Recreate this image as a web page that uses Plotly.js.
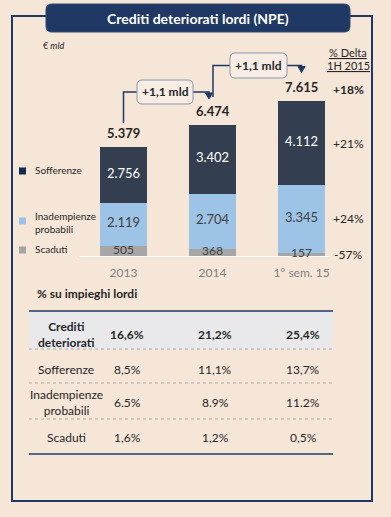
<!DOCTYPE html>
<html><head><meta charset="utf-8">
<script src="https://cdn.plot.ly/plotly-3.0.1.min.js"></script>
<style>html,body{margin:0;padding:0;background:#F6E6D8;}#chart{width:391px;height:517px;}</style>
</head><body><div id="chart"></div>
<script>
// ---- data ----
const categories = ['2013', '2014', '1° sem. 15'];
const seriesNames = ['Sofferenze', 'Inadempienze<br>probabili', 'Scaduti'];
const sofferenze = [2756, 3402, 4112];
const inadempienze = [2119, 2704, 3345];
const scaduti = [505, 368, 157];
const totali = [5379, 6474, 7615];
const deltas = ['+18%', '+21%', '+24%', '-57%'];
const incrementi = ['+1,1 mld', '+1,1 mld'];
const tableLabels = ['Crediti<br>deteriorati', 'Sofferenze', 'Inadempienze<br>probabili', 'Scaduti'];
const pctCrediti = ['16,6%', '21,2%', '25,4%'];
const pctSofferenze = ['8,5%', '11,1%', '13,7%'];
const pctInadempienze = ['6.5%', '8.9%', '11.2%'];
const pctScaduti = ['1,6%', '1,2%', '0,5%'];

// ---- geometry helpers (pixels -> paper) ----
const W = 391, H = 517;
const X = x => x / W, Y = y => 1 - y / H;
const FONT = 'Lato, "Open Sans", sans-serif';
const NAVY = '#1F3864';
const baseY = 256, yMax = 8000, pxPerUnit = 0.0203, padBelow = 20;
const topY = baseY - yMax * pxPerUnit;
const xLeft = 79, step = 89;
const xc = i => xLeft + (i + 0.5) * step;
const yPix = v => baseY - v * pxPerUnit;
const fmt = v => String(v).replace(/\B(?=(\d{3})+(?!\d))/g, '.');

function rr(x0, y0, x1, y1, r) {
  return `M${X(x0 + r)},${Y(y0)} L${X(x1 - r)},${Y(y0)} Q${X(x1)},${Y(y0)} ${X(x1)},${Y(y0 + r)} ` +
    `L${X(x1)},${Y(y1 - r)} Q${X(x1)},${Y(y1)} ${X(x1 - r)},${Y(y1)} L${X(x0 + r)},${Y(y1)} ` +
    `Q${X(x0)},${Y(y1)} ${X(x0)},${Y(y1 - r)} L${X(x0)},${Y(y0 + r)} Q${X(x0)},${Y(y0)} ${X(x0 + r)},${Y(y0)} Z`;
}
function poly(pts) { return 'M' + pts.map(p => X(p[0]) + ',' + Y(p[1])).join(' L'); }
function tri(x, yTop) { return poly([[x - 3.5, yTop], [x + 3.5, yTop], [x, yTop + 6]]) + ' Z'; }

// ---- traces ----
const barCommon = { type: 'bar', x: categories, textposition: 'none', hoverinfo: 'skip' };
const traces = [
  Object.assign({}, barCommon, { name: 'Scaduti', y: scaduti, marker: { color: '#A6A6A6' } }),
  Object.assign({}, barCommon, { name: 'Inadempienze probabili', y: inadempienze, marker: { color: '#9DC3E6' } }),
  Object.assign({}, barCommon, { name: 'Sofferenze', y: sofferenze, marker: { color: '#333F50' } })
];
// segment labels, drawn on top of all bars at the middle of each segment
const mid = (base, v) => base.map((b, i) => b + v[i] / 2);
const zero = categories.map(() => 0);
const baseInad = scaduti.slice();
const baseSoff = scaduti.map((s, i) => s + inadempienze[i]);
[[zero, scaduti, '#404040', 12], [baseInad, inadempienze, '#404040', 13], [baseSoff, sofferenze, '#FFFFFF', 13]].forEach(([b, v, col, sz]) => {
  traces.push({ type: 'scatter', mode: 'text', x: categories, y: mid(b, v), text: v.map(fmt),
    textposition: 'middle center', cliponaxis: false, hoverinfo: 'skip',
    textfont: { family: FONT, size: sz, color: col } });
});

// ---- shapes ----
const shapes = [];
shapes.push({ type: 'rect', xref: 'paper', yref: 'paper', x0: X(29), x1: X(333), y0: Y(311), y1: Y(349),
  fillcolor: '#E9E9EC', line: { width: 0 }, layer: 'below' });
shapes.push({ type: 'rect', xref: 'paper', yref: 'paper', x0: X(12), x1: X(372), y0: Y(16), y1: Y(501),
  line: { color: NAVY, width: 2 } });
shapes.push({ type: 'path', xref: 'paper', yref: 'paper', path: rr(46, 4, 350, 32, 6), fillcolor: NAVY, line: { color: '#2F4A73', width: 1 } });
shapes.push({ type: 'line', xref: 'paper', yref: 'paper', x0: X(79), x1: X(330), y0: Y(baseY + 0.5), y1: Y(baseY + 0.5),
  line: { color: '#FFFFFF', width: 1 }, layer: 'between' });
const boxes = [[137, 80, 193, 104], [230, 53, 287, 78]];
const conn = [
  { start: [xc(0), 123], end: [xc(1) - 3.5, 93] },
  { start: [xc(1) + 0.5, 97], end: [xc(2), 68] }
];
conn.forEach((c, i) => {
  const b = boxes[i], my = (b[1] + b[3]) / 2;
  shapes.push({ type: 'path', xref: 'paper', yref: 'paper', path: poly([c.start, [c.start[0], my], [b[0], my]]), line: { color: NAVY, width: 1.5 } });
  shapes.push({ type: 'path', xref: 'paper', yref: 'paper', path: poly([[b[2], my], [c.end[0], my], [c.end[0], my + 3]]), line: { color: NAVY, width: 1.5 } });
  shapes.push({ type: 'path', xref: 'paper', yref: 'paper', path: tri(c.end[0], my + 1), fillcolor: NAVY, line: { color: NAVY, width: 1 } });
  shapes.push({ type: 'path', xref: 'paper', yref: 'paper', path: rr(b[0], b[1], b[2], b[3], 5), fillcolor: '#F7EDE4', line: { color: '#8C98AA', width: 1 } });
});
const legendColors = ['#0F2D52', '#9DC3E6', '#A6A6A6'];
const legendY = [171, 221, 250];
legendColors.forEach((c, i) => {
  shapes.push({ type: 'rect', xref: 'paper', yref: 'paper', x0: X(19), x1: X(26), y0: Y(legendY[i] - 3.5), y1: Y(legendY[i] + 3.5), fillcolor: c, line: { width: 0 } });
});
shapes.push({ type: 'line', xref: 'paper', yref: 'paper', x0: X(29), x1: X(333), y0: Y(311), y1: Y(311), line: { color: NAVY, width: 1.5 } });
[349, 383, 419].forEach(y => shapes.push({ type: 'line', xref: 'paper', yref: 'paper', x0: X(29), x1: X(333), y0: Y(y), y1: Y(y), line: { color: '#A8A8A8', width: 1, dash: 'dot' } }));
shapes.push({ type: 'line', xref: 'paper', yref: 'paper', x0: X(29), x1: X(333), y0: Y(454), y1: Y(454), line: { color: NAVY, width: 1.5 } });

// ---- annotations ----
const ann = [];
const T = (x, y, text, size, opts) => Object.assign({ xref: 'paper', yref: 'paper', x: X(x), y: Y(y), text: text, showarrow: false,
  xanchor: 'center', yanchor: 'middle', font: { family: FONT, size: size, color: '#262626' } }, opts || {});
ann.push(T(198, 18, '<b>Crediti deteriorati lordi (NPE)</b>', 14, { font: { family: FONT, size: 14, color: '#FFFFFF' } }));
ann.push(T(41, 46, '<i>€ mld</i>', 9, { xanchor: 'left' }));
ann.push(T(348, 52, '<u>% Delta</u>', 11));
ann.push(T(348, 66, '<u>1H 2015</u>', 11));
totali.forEach((t, i) => ann.push({ xref: 'x', yref: 'y', x: i, y: t, yanchor: 'bottom', yshift: 4, showarrow: false,
  text: '<b>' + fmt(t) + '</b>', font: { family: FONT, size: 13, color: '#262626' } }));
incrementi.forEach((t, i) => { const b = boxes[i]; ann.push(T((b[0] + b[2]) / 2, (b[1] + b[3]) / 2, '<b>' + t + '</b>', 12)); });
const last = categories.length - 1;
const deltaY = [yPix(totali[last]) - 12,
  yPix(scaduti[last] + inadempienze[last] + sofferenze[last] / 2),
  yPix(scaduti[last] + inadempienze[last] / 2),
  yPix(scaduti[last] / 2)];
deltas.forEach((d, i) => ann.push(T(348, deltaY[i], i === 0 ? '<b>' + d + '</b>' : d, 12)));
seriesNames.forEach((n, i) => ann.push(T(33, legendY[i] + (i === 1 ? 1 : -1), n, 10, { xanchor: 'left', align: 'left' })));
ann.push(T(35, 293, '<b>% su impieghi lordi</b>', 12, { xanchor: 'left' }));
const rowsY = [334, 369, 402, 437];
const rows = [pctCrediti, pctSofferenze, pctInadempienze, pctScaduti];
const colX = [127, 215, 303];
tableLabels.forEach((l, r) => {
  ann.push(T(66, rowsY[r], r === 0 ? '<b>' + l + '</b>' : l, 12));
  rows[r].forEach((v, c) => ann.push(T(colX[c], rowsY[r], r === 0 ? '<b>' + v + '</b>' : v, 12)));
});

const layout = {
  width: W, height: H, margin: { l: 0, r: 0, t: 0, b: 0 },
  paper_bgcolor: '#F6E6D8', plot_bgcolor: 'rgba(0,0,0,0)',
  barmode: 'stack', bargap: 0.472, showlegend: false,
  font: { family: FONT },
  xaxis: { domain: [X(xLeft), X(xLeft + step * 3)], type: 'category', range: [-0.5, 2.5], showline: false,
    anchor: 'free', position: Y(baseY),
    showgrid: false, zeroline: false, ticks: '', ticklabelstandoff: 8,
    tickfont: { family: FONT, size: 12, color: '#7F7F7F' }, fixedrange: true },
  yaxis: { domain: [Y(baseY + padBelow), Y(topY)], range: [-padBelow / pxPerUnit, yMax], visible: false, fixedrange: true },
  shapes: shapes, annotations: ann
};
Plotly.newPlot('chart', traces, layout, { staticPlot: true, displayModeBar: false });
</script></body></html>
